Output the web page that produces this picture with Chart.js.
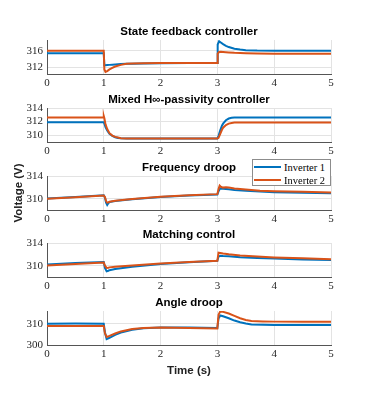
<!DOCTYPE html>
<html>
<head>
<meta charset="utf-8">
<script src="https://cdn.jsdelivr.net/npm/chart.js@4.4.1/dist/chart.umd.min.js"></script>
<style>
  body { margin: 0; background: #fff; }
  #wrap { position: relative; width: 366px; height: 393px; overflow: hidden; }
  #wrap canvas { position: absolute; left: 0; }
  #legend {
    position: absolute; left: 252px; top: 159px; width: 77px; height: 25px;
    border: 1px solid #8c8c8c; background: #fff;
    font: 10.5px 'Liberation Serif', 'DejaVu Serif', serif; color: #000;
  }
  #legend .row { position: absolute; left: 0; height: 13px; width: 77px; }
  #legend .line { position: absolute; left: 1px; top: 5px; width: 27px; height: 2px; }
  #legend .txt { position: absolute; left: 31px; top: 0; line-height: 13px; white-space: nowrap; }
</style>
</head>
<body>
<div id="wrap">
  <canvas id="c1"></canvas>
  <canvas id="c2"></canvas>
  <canvas id="c3"></canvas>
  <canvas id="c4"></canvas>
  <canvas id="c5"></canvas>
  <div id="legend"></div>
</div>
<script>
const seriesNames = ['Inverter 1', 'Inverter 2'];
const seriesColors = ['#0072BD', '#D95319'];
const titles = ['State feedback controller', 'Mixed H\u221E-passivity controller', 'Frequency droop', 'Matching control', 'Angle droop'];
const xTicks = [0, 1, 2, 3, 4, 5];

// State feedback controller
const sfTime = [0, 0.999, 1.0, 1.01, 1.03, 1.06, 1.1, 1.15, 1.2, 1.3, 1.4, 1.5, 1.7, 2, 2.5, 2.999, 3.0, 3.01, 3.03, 3.06, 3.1, 3.15, 3.2, 3.3, 3.4, 3.5, 3.7, 4, 4.5, 5];
const sfInv1 = [315.4, 315.4, 315.4, 312.5, 312.5, 312.55, 312.6, 312.65, 312.7, 312.8, 312.85, 312.9, 312.95, 313.0, 313.05, 313.05, 313.05, 317.5, 318.3, 318.0, 317.6, 317.2, 316.9, 316.5, 316.3, 316.15, 316.05, 316.0, 316.0, 316.0];
const sfInv2 = [316.0, 316.0, 316.0, 311.5, 310.9, 311.1, 311.5, 311.9, 312.2, 312.6, 312.85, 312.95, 313.0, 313.05, 313.05, 313.05, 313.05, 315.3, 315.7, 315.75, 315.7, 315.65, 315.6, 315.5, 315.45, 315.4, 315.35, 315.3, 315.3, 315.3];
const sfTicks = [312, 316];

// Mixed H-infinity passivity controller
const mhTime = [0, 0.999, 1.0, 1.01, 1.03, 1.06, 1.1, 1.15, 1.2, 1.25, 1.3, 1.4, 1.6, 2, 2.5, 2.999, 3.0, 3.02, 3.05, 3.08, 3.1, 3.15, 3.2, 3.25, 3.3, 3.4, 3.6, 4, 4.5, 5];
const mhInv1 = [311.9, 311.9, 311.9, 311.7, 311.2, 310.7, 310.2, 309.9, 309.7, 309.6, 309.55, 309.5, 309.5, 309.5, 309.5, 309.5, 309.5, 309.9, 310.7, 311.4, 311.7, 312.2, 312.45, 312.55, 312.6, 312.6, 312.6, 312.6, 312.6, 312.6];
const mhInv2 = [312.6, 312.6, 312.8, 312.5, 311.6, 310.9, 310.3, 309.95, 309.75, 309.65, 309.55, 309.5, 309.5, 309.5, 309.5, 309.5, 309.5, 309.6, 310.2, 310.8, 311.1, 311.5, 311.7, 311.8, 311.85, 311.85, 311.85, 311.85, 311.85, 311.85];
const mhTicks = [310, 312, 314];

// Frequency droop
const fdTime = [0, 0.5, 0.999, 1.0, 1.02, 1.04, 1.06, 1.08, 1.1, 1.15, 1.2, 1.5, 2, 2.5, 2.999, 3.0, 3.02, 3.04, 3.06, 3.1, 3.15, 3.2, 3.3, 3.5, 3.75, 4, 4.5, 5];
const fdInv1 = [310.05, 310.3, 310.6, 310.6, 310.2, 309.3, 308.9, 309.2, 309.4, 309.5, 309.6, 309.9, 310.3, 310.55, 310.75, 310.75, 311.3, 311.7, 311.8, 311.75, 311.7, 311.65, 311.55, 311.4, 311.25, 311.15, 311.05, 310.95];
const fdInv2 = [310.0, 310.25, 310.55, 310.55, 310.3, 309.6, 309.3, 309.35, 309.45, 309.55, 309.65, 309.95, 310.35, 310.6, 310.8, 310.8, 311.7, 312.3, 312.1, 311.95, 312.0, 311.95, 311.8, 311.6, 311.4, 311.3, 311.2, 311.1];
const fdTicks = [310, 314];

// Matching control
const mcTime = [0, 0.5, 0.999, 1.0, 1.02, 1.05, 1.08, 1.1, 1.2, 1.5, 2, 2.5, 2.999, 3.0, 3.02, 3.05, 3.1, 3.2, 3.4, 3.7, 4, 4.5, 5];
const mcInv1 = [310.2, 310.45, 310.65, 310.65, 309.6, 309.0, 309.1, 309.2, 309.4, 309.8, 310.3, 310.6, 310.85, 310.85, 311.6, 311.75, 311.7, 311.65, 311.5, 311.35, 311.25, 311.1, 311.0];
const mcInv2 = [310.05, 310.3, 310.55, 310.55, 310.0, 309.6, 309.65, 309.7, 309.8, 310.05, 310.4, 310.65, 310.85, 310.85, 312.3, 312.25, 312.15, 312.0, 311.8, 311.6, 311.45, 311.3, 311.15];
const mcTicks = [310, 314];

// Angle droop
const adTime = [0, 0.5, 0.999, 1.0, 1.02, 1.05, 1.1, 1.2, 1.3, 1.5, 1.7, 2, 2.5, 2.999, 3.0, 3.02, 3.05, 3.1, 3.2, 3.3, 3.4, 3.5, 3.6, 3.8, 4, 4.5, 5];
const adInv1 = [310.0, 310.1, 310.0, 310.0, 306.0, 302.8, 303.4, 304.8, 305.9, 307.2, 307.9, 308.2, 308.2, 308.0, 308.0, 312.5, 313.9, 313.5, 312.6, 311.5, 310.7, 310.1, 309.7, 309.5, 309.4, 309.4, 309.4];
const adInv2 = [309.0, 309.0, 309.0, 309.0, 305.5, 303.8, 304.3, 305.4, 306.4, 307.5, 308.0, 308.2, 308.0, 307.8, 307.8, 314.2, 315.8, 315.6, 314.8, 313.7, 312.6, 311.8, 311.3, 311.1, 311.0, 311.0, 311.0];
const adTicks = [300, 310];

const plotTops = [40, 108, 176, 243, 311];
const plotH = 34, titleH = 17, axisH = 19;
const tickFont = { family: "'Liberation Serif', 'DejaVu Serif', serif", size: 11 };
const boldFont = { family: "'Liberation Sans', Arial, sans-serif", size: 11.5, weight: 'bold', lineHeight: '13px' };

function toPoints(time, vals) {
    return time.map((t, i) => ({ x: t, y: vals[i] }));
}

function makeChart(idx, time, inv1, inv2, yTicks, yMin, yMax, extra) {
    extra = extra || {};
    const canvas = document.getElementById('c' + (idx + 1));
    const xH = extra.xTitle ? 34 : axisH;
    const h = titleH + plotH + xH;
    canvas.width = 366;
    canvas.height = h;
    canvas.style.top = (plotTops[idx] - titleH) + 'px';

    return new Chart(canvas.getContext('2d'), {
        type: 'line',
        data: {
            datasets: [inv1, inv2].map((vals, i) => ({
                label: seriesNames[i],
                data: toPoints(time, vals),
                borderColor: seriesColors[i],
                borderWidth: 2,
                pointRadius: 0,
                tension: 0,
                fill: false,
                order: 1 - i
            }))
        },
        options: {
            responsive: false,
            animation: false,
            layout: { padding: { left: 0, right: 35, top: 0, bottom: 0 } },
            plugins: {
                legend: { display: false },
                tooltip: { enabled: false },
                title: {
                    display: true,
                    text: titles[idx],
                    fullSize: false,
                    color: '#000',
                    font: boldFont,
                    padding: { top: 2, bottom: 2 }
                }
            },
            scales: {
                x: {
                    type: 'linear',
                    min: 0,
                    max: 5,
                    afterBuildTicks: s => { s.ticks = xTicks.map(v => ({ value: v })); },
                    afterFit: s => { s.height = xH; },
                    ticks: { color: '#262626', font: tickFont, padding: 3, maxRotation: 0 },
                    grid: { color: '#e3e3e3', drawTicks: false },
                    border: { color: '#555', width: 1 },
                    title: extra.xTitle ? {
                        display: true, text: extra.xTitle, color: '#222', font: boldFont,
                        padding: { top: 0, bottom: 2 }
                    } : { display: false }
                },
                y: {
                    min: yMin,
                    max: yMax,
                    afterBuildTicks: s => { s.ticks = yTicks.map(v => ({ value: v })); },
                    afterFit: s => { s.width = 47; },
                    ticks: { color: '#262626', font: tickFont, padding: 4 },
                    grid: { color: '#e3e3e3', drawTicks: false },
                    border: { color: '#555', width: 1 },
                    title: extra.yTitle ? {
                        display: true, text: extra.yTitle, color: '#222', font: boldFont,
                        padding: { top: 12, bottom: 0 }
                    } : { display: false }
                }
            }
        }
    });
}

makeChart(0, sfTime, sfInv1, sfInv2, sfTicks, 310.4, 318.6);
makeChart(1, mhTime, mhInv1, mhInv2, mhTicks, 309, 314);
makeChart(2, fdTime, fdInv1, fdInv2, fdTicks, 308, 314, { yTitle: 'Voltage (V)' });
makeChart(3, mcTime, mcInv1, mcInv2, mcTicks, 308, 314);
makeChart(4, adTime, adInv1, adInv2, adTicks, 300, 316, { xTitle: 'Time (s)' });

// legend box inside the frequency droop panel
const legend = document.getElementById('legend');
seriesNames.forEach((name, i) => {
    const row = document.createElement('div');
    row.className = 'row';
    row.style.top = (1 + i * 12.7) + 'px';
    row.innerHTML = `<span class="line" style="background:${seriesColors[i]}"></span><span class="txt">${name}</span>`;
    legend.appendChild(row);
});
</script>
</body>
</html>
